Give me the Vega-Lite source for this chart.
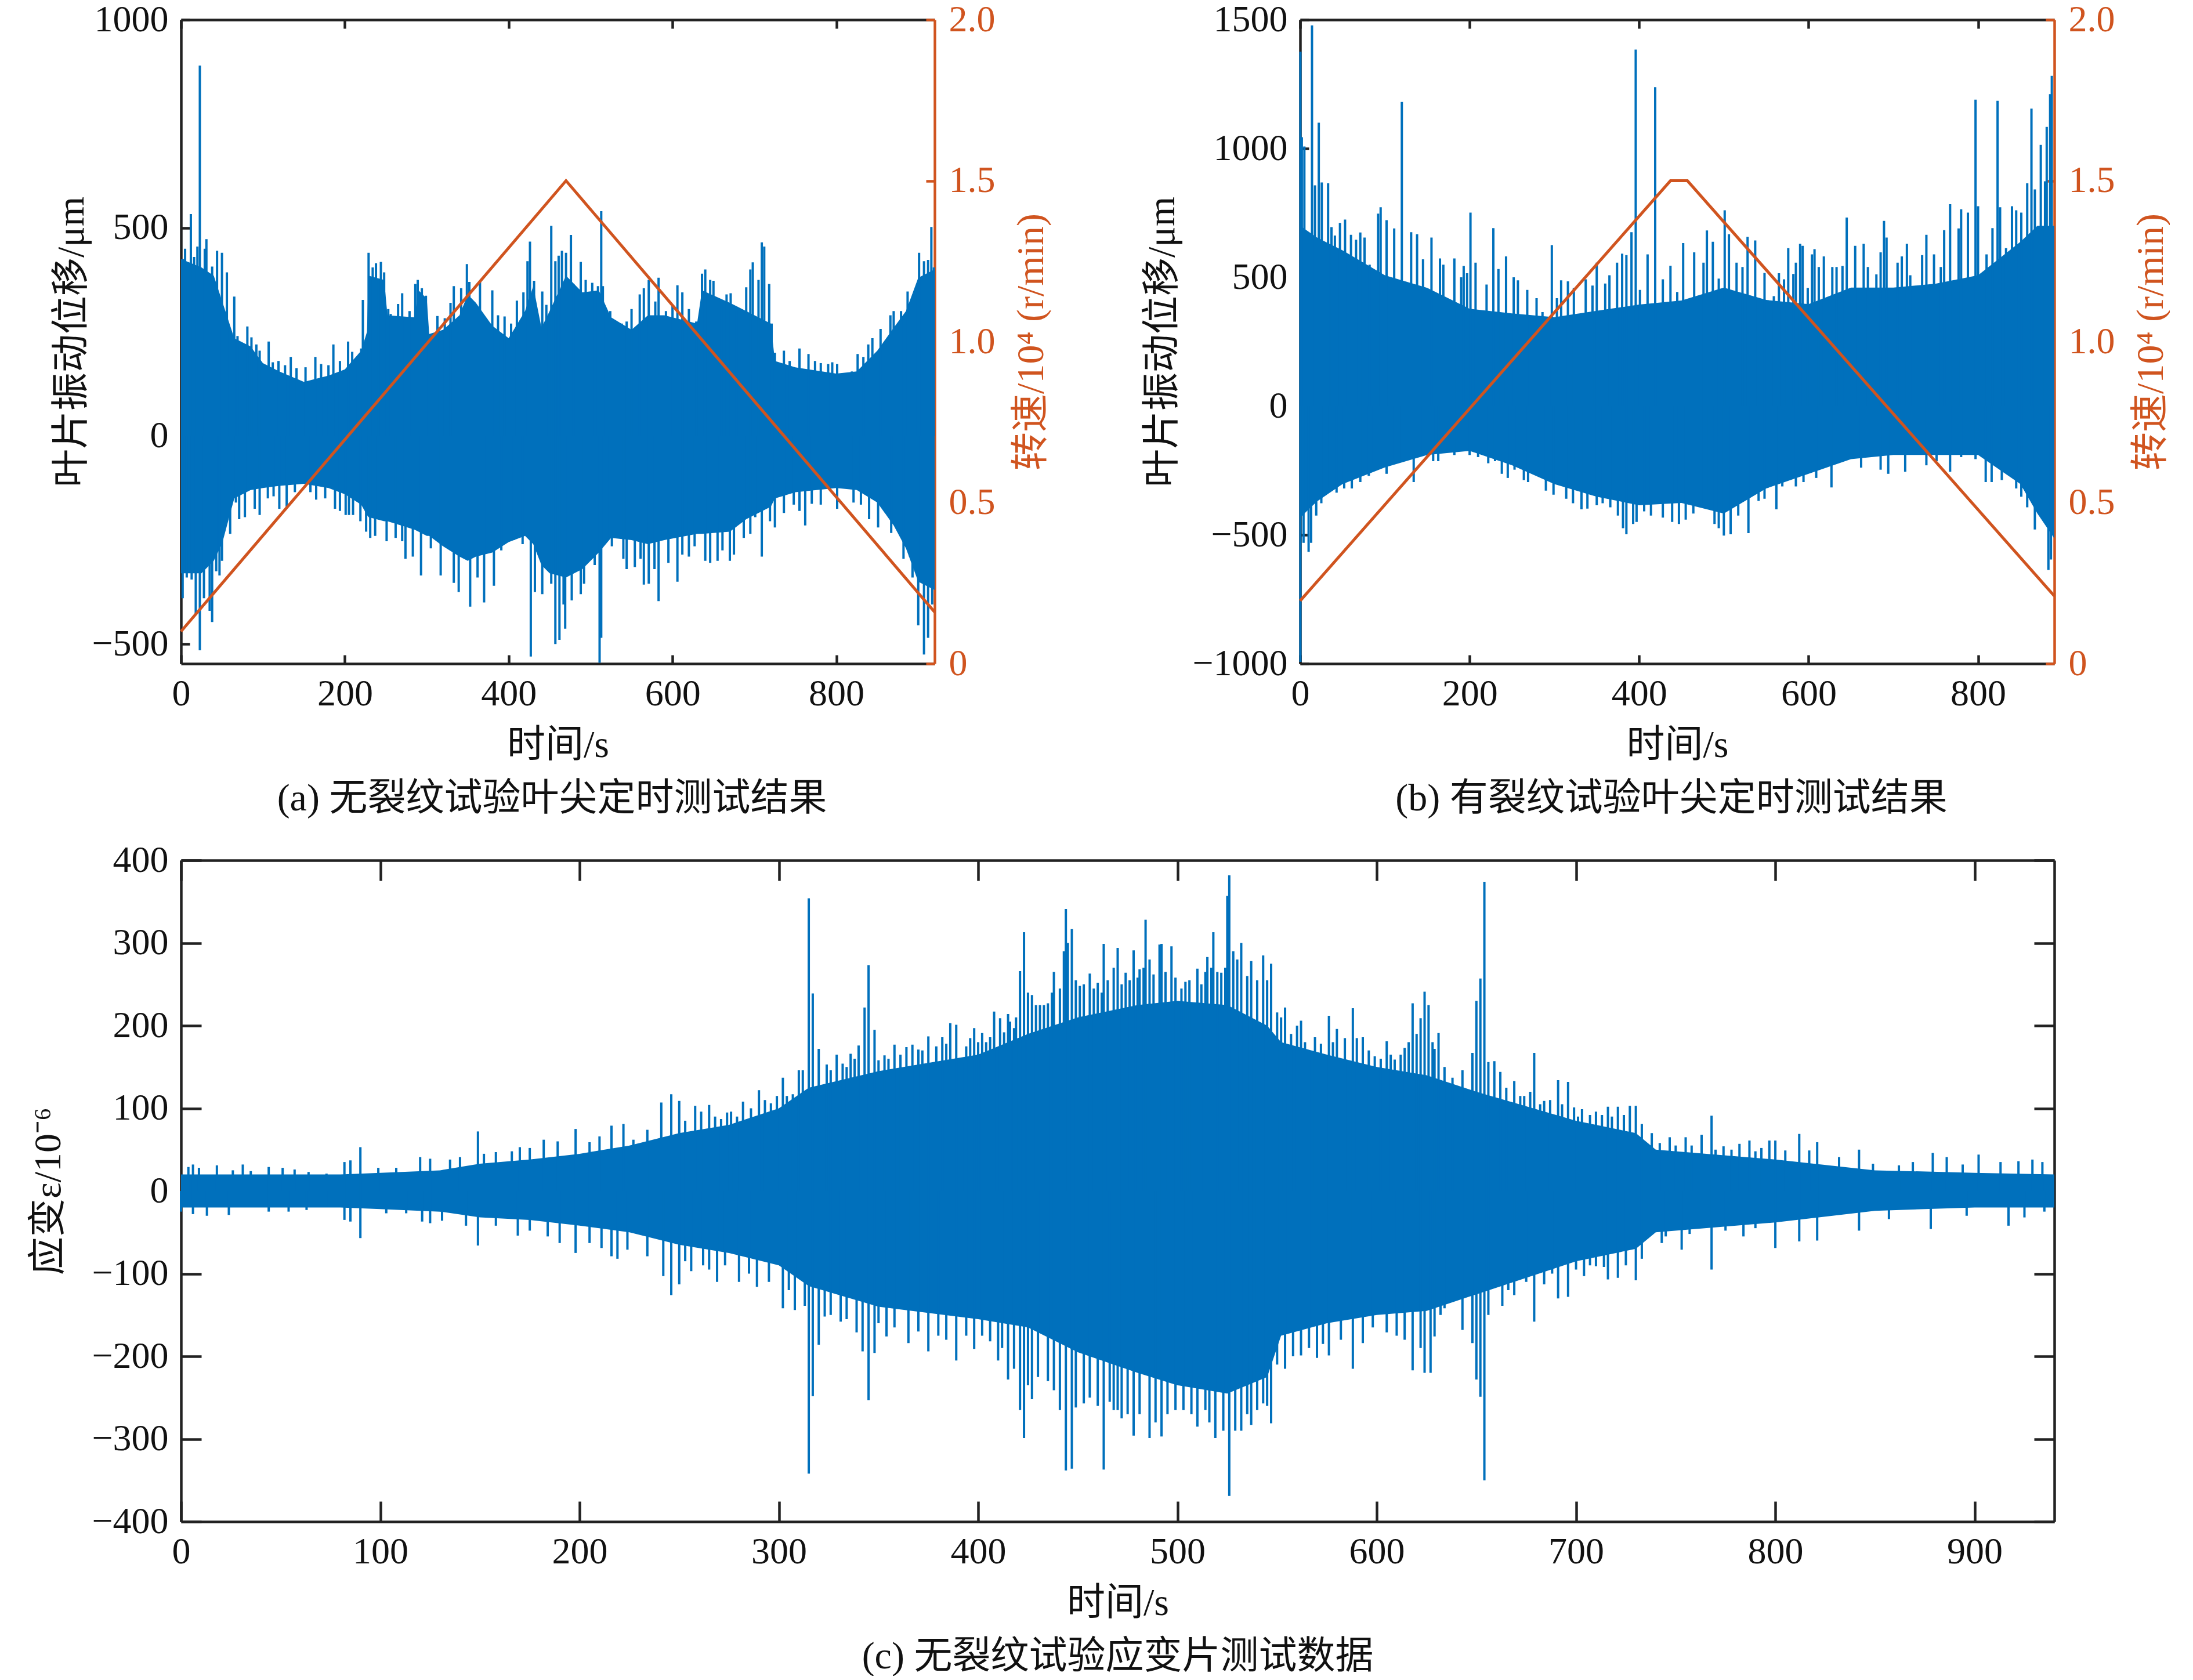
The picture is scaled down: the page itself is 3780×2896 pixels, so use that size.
{
"$schema":"https://vega.github.io/schema/vega-lite/v6.json",
"autosize":{"type":"pad"},
"padding":{"left":50,"top":2,"right":0,"bottom":0},
"background":"white",
"config":{"font":"Liberation Serif, Noto Sans CJK SC","view":{"stroke":null},"axis":{"grid":false,"labelFont":"Liberation Serif, Noto Sans CJK SC","titleFont":"Liberation Serif, Noto Sans CJK SC","labelFontSize":64,"titleFontSize":66,"titleFontWeight":"normal","labelColor":"#111","titleColor":"#111","domainColor":"#222","tickColor":"#222","domainWidth":4.5,"tickWidth":4.5},"title":{"font":"Liberation Serif, Noto Sans CJK SC","fontSize":66,"fontWeight":"normal","color":"#111"}},
"datasets":{
"a_env":[{"t":0,"lo":-330,"hi":425},{"t":25,"lo":-330,"hi":405},{"t":40,"lo":-300,"hi":385},{"t":50,"lo":-260,"hi":325},{"t":65,"lo":-150,"hi":235},{"t":85,"lo":-130,"hi":215},{"t":100,"lo":-125,"hi":175},{"t":120,"lo":-120,"hi":155},{"t":150,"lo":-115,"hi":130},{"t":180,"lo":-125,"hi":145},{"t":200,"lo":-140,"hi":160},{"t":220,"lo":-165,"hi":205},{"t":227,"lo":-190,"hi":250},{"t":229,"lo":-195,"hi":385},{"t":248,"lo":-205,"hi":375},{"t":252,"lo":-205,"hi":290},{"t":285,"lo":-225,"hi":285},{"t":290,"lo":-230,"hi":350},{"t":300,"lo":-240,"hi":330},{"t":303,"lo":-240,"hi":245},{"t":320,"lo":-265,"hi":255},{"t":340,"lo":-290,"hi":290},{"t":350,"lo":-300,"hi":340},{"t":360,"lo":-290,"hi":320},{"t":380,"lo":-280,"hi":265},{"t":400,"lo":-255,"hi":235},{"t":420,"lo":-240,"hi":300},{"t":430,"lo":-260,"hi":360},{"t":440,"lo":-310,"hi":260},{"t":450,"lo":-330,"hi":300},{"t":470,"lo":-340,"hi":385},{"t":490,"lo":-320,"hi":345},{"t":510,"lo":-280,"hi":350},{"t":525,"lo":-245,"hi":285},{"t":550,"lo":-250,"hi":255},{"t":570,"lo":-260,"hi":290},{"t":590,"lo":-250,"hi":290},{"t":630,"lo":-235,"hi":270},{"t":636,"lo":-235,"hi":350},{"t":670,"lo":-230,"hi":320},{"t":690,"lo":-200,"hi":300},{"t":720,"lo":-170,"hi":270},{"t":725,"lo":-150,"hi":180},{"t":750,"lo":-135,"hi":165},{"t":800,"lo":-125,"hi":150},{"t":825,"lo":-130,"hi":155},{"t":850,"lo":-160,"hi":205},{"t":870,"lo":-215,"hi":260},{"t":885,"lo":-270,"hi":300},{"t":900,"lo":-350,"hi":380},{"t":920,"lo":-370,"hi":400}],
"a_peak":[{"t":3,"v":425},{"t":5,"v":450},{"t":12,"v":533},{"t":16,"v":430},{"t":20,"v":455},{"t":23,"v":890},{"t":29,"v":450},{"t":31,"v":473},{"t":38,"v":407},{"t":44,"v":445},{"t":50,"v":440},{"t":56,"v":393},{"t":65,"v":335},{"t":69,"v":240},{"t":81,"v":263},{"t":86,"v":237},{"t":92,"v":220},{"t":96,"v":205},{"t":107,"v":227},{"t":112,"v":177},{"t":119,"v":180},{"t":127,"v":170},{"t":134,"v":190},{"t":141,"v":163},{"t":152,"v":165},{"t":164,"v":190},{"t":171,"v":173},{"t":180,"v":170},{"t":186,"v":220},{"t":194,"v":180},{"t":204,"v":227},{"t":209,"v":202},{"t":213,"v":185},{"t":220,"v":210},{"t":222,"v":327},{"t":229,"v":440},{"t":234,"v":405},{"t":238,"v":415},{"t":244,"v":418},{"t":248,"v":393},{"t":253,"v":305},{"t":256,"v":293},{"t":265,"v":317},{"t":270,"v":343},{"t":279,"v":300},{"t":286,"v":365},{"t":289,"v":375},{"t":294,"v":355},{"t":299,"v":337},{"t":313,"v":288},{"t":322,"v":283},{"t":329,"v":320},{"t":333,"v":360},{"t":342,"v":355},{"t":349,"v":413},{"t":352,"v":370},{"t":358,"v":320},{"t":365,"v":370},{"t":372,"v":283},{"t":380,"v":350},{"t":387,"v":290},{"t":395,"v":287},{"t":403,"v":270},{"t":410,"v":325},{"t":418,"v":345},{"t":423,"v":420},{"t":426,"v":467},{"t":431,"v":373},{"t":441,"v":347},{"t":446,"v":315},{"t":452,"v":505},{"t":457,"v":420},{"t":461,"v":433},{"t":465,"v":445},{"t":470,"v":440},{"t":476,"v":483},{"t":479,"v":365},{"t":488,"v":418},{"t":494,"v":375},{"t":502,"v":368},{"t":509,"v":360},{"t":513,"v":540},{"t":515,"v":360},{"t":524,"v":300},{"t":528,"v":255},{"t":538,"v":270},{"t":544,"v":275},{"t":550,"v":305},{"t":560,"v":340},{"t":565,"v":355},{"t":571,"v":375},{"t":579,"v":323},{"t":583,"v":380},{"t":592,"v":300},{"t":600,"v":315},{"t":606,"v":362},{"t":612,"v":345},{"t":620,"v":305},{"t":629,"v":275},{"t":636,"v":390},{"t":640,"v":400},{"t":646,"v":375},{"t":650,"v":373},{"t":660,"v":320},{"t":666,"v":340},{"t":671,"v":343},{"t":678,"v":300},{"t":690,"v":357},{"t":695,"v":400},{"t":698,"v":417},{"t":705,"v":375},{"t":709,"v":465},{"t":712,"v":455},{"t":718,"v":365},{"t":721,"v":270},{"t":725,"v":200},{"t":736,"v":205},{"t":743,"v":180},{"t":755,"v":210},{"t":766,"v":197},{"t":774,"v":180},{"t":781,"v":175},{"t":790,"v":173},{"t":795,"v":177},{"t":801,"v":173},{"t":819,"v":155},{"t":826,"v":197},{"t":833,"v":190},{"t":839,"v":220},{"t":844,"v":235},{"t":854,"v":257},{"t":859,"v":210},{"t":866,"v":290},{"t":870,"v":300},{"t":879,"v":300},{"t":887,"v":347},{"t":896,"v":350},{"t":901,"v":440},{"t":907,"v":420},{"t":912,"v":423},{"t":916,"v":502},{"t":919,"v":405},
{"t":2,"v":-390},{"t":7,"v":-340},{"t":13,"v":-345},{"t":18,"v":-430},{"t":23,"v":-515},{"t":28,"v":-390},{"t":35,"v":-420},{"t":38,"v":-447},{"t":43,"v":-325},{"t":47,"v":-335},{"t":50,"v":-300},{"t":60,"v":-235},{"t":67,"v":-160},{"t":71,"v":-200},{"t":78,"v":-195},{"t":90,"v":-175},{"t":96,"v":-190},{"t":106,"v":-150},{"t":113,"v":-145},{"t":120,"v":-175},{"t":129,"v":-170},{"t":139,"v":-135},{"t":158,"v":-135},{"t":165,"v":-153},{"t":176,"v":-150},{"t":188,"v":-175},{"t":194,"v":-180},{"t":201,"v":-190},{"t":205,"v":-190},{"t":210,"v":-190},{"t":219,"v":-205},{"t":226,"v":-230},{"t":231,"v":-245},{"t":237,"v":-240},{"t":251,"v":-253},{"t":262,"v":-245},{"t":270,"v":-253},{"t":274,"v":-295},{"t":283,"v":-290},{"t":293,"v":-335},{"t":305,"v":-270},{"t":317,"v":-335},{"t":333,"v":-353},{"t":339,"v":-375},{"t":353,"v":-410},{"t":362,"v":-340},{"t":370,"v":-400},{"t":382,"v":-360},{"t":391,"v":-275},{"t":406,"v":-250},{"t":417,"v":-260},{"t":427,"v":-530},{"t":432,"v":-375},{"t":441,"v":-380},{"t":452,"v":-355},{"t":457,"v":-500},{"t":462,"v":-490},{"t":467,"v":-405},{"t":469,"v":-463},{"t":477,"v":-395},{"t":488,"v":-380},{"t":492,"v":-355},{"t":505,"v":-310},{"t":511,"v":-545},{"t":513,"v":-485},{"t":520,"v":-250},{"t":526,"v":-265},{"t":532,"v":-245},{"t":540,"v":-295},{"t":544,"v":-320},{"t":554,"v":-315},{"t":561,"v":-295},{"t":565,"v":-357},{"t":571,"v":-355},{"t":578,"v":-320},{"t":583,"v":-397},{"t":595,"v":-305},{"t":606,"v":-350},{"t":612,"v":-285},{"t":620,"v":-290},{"t":627,"v":-265},{"t":640,"v":-300},{"t":646,"v":-305},{"t":655,"v":-300},{"t":661,"v":-275},{"t":670,"v":-300},{"t":675,"v":-285},{"t":687,"v":-245},{"t":695,"v":-235},{"t":701,"v":-195},{"t":709,"v":-290},{"t":719,"v":-205},{"t":725,"v":-220},{"t":736,"v":-185},{"t":748,"v":-165},{"t":755,"v":-180},{"t":762,"v":-215},{"t":770,"v":-163},{"t":781,"v":-165},{"t":801,"v":-175},{"t":821,"v":-160},{"t":830,"v":-165},{"t":840,"v":-200},{"t":851,"v":-220},{"t":867,"v":-233},{"t":882,"v":-295},{"t":890,"v":-290},{"t":893,"v":-340},{"t":900,"v":-455},{"t":907,"v":-525},{"t":912,"v":-485},{"t":917,"v":-405}],
"a_speed":[{"t":0,"rpm":0.1},{"t":470,"rpm":1.5},{"t":920,"rpm":0.16}],
"b_env":[{"t":0,"lo":-433,"hi":700},{"t":20,"lo":-370,"hi":654},{"t":50,"lo":-303,"hi":605},{"t":100,"lo":-238,"hi":508},{"t":150,"lo":-190,"hi":459},{"t":200,"lo":-174,"hi":378},{"t":250,"lo":-230,"hi":360},{"t":300,"lo":-303,"hi":345},{"t":350,"lo":-352,"hi":370},{"t":400,"lo":-385,"hi":394},{"t":450,"lo":-376,"hi":410},{"t":500,"lo":-417,"hi":460},{"t":550,"lo":-320,"hi":412},{"t":600,"lo":-263,"hi":396},{"t":650,"lo":-206,"hi":460},{"t":700,"lo":-190,"hi":460},{"t":750,"lo":-190,"hi":475},{"t":800,"lo":-190,"hi":508},{"t":850,"lo":-303,"hi":638},{"t":870,"lo":-417,"hi":700},{"t":890,"lo":-514,"hi":700}],
"b_peak":[{"t":0.3,"v":1376},{"t":2,"v":1044},{"t":5,"v":1008},{"t":14,"v":1478},{"t":17.5,"v":857},{"t":22,"v":1100},{"t":25.5,"v":868},{"t":33,"v":865},{"t":37,"v":695},{"t":41,"v":662},{"t":47,"v":711},{"t":53,"v":724},{"t":60,"v":665},{"t":66,"v":646},{"t":71,"v":674},{"t":76,"v":654},{"t":82,"v":549},{"t":92,"v":747},{"t":95,"v":772},{"t":102,"v":722},{"t":111,"v":690},{"t":120,"v":1181},{"t":131,"v":675},{"t":138,"v":667},{"t":145,"v":570},{"t":155,"v":654},{"t":165,"v":573},{"t":169,"v":549},{"t":182,"v":573},{"t":190,"v":500},{"t":193,"v":544},{"t":197,"v":516},{"t":201,"v":751},{"t":207,"v":557},{"t":220,"v":472},{"t":228,"v":691},{"t":234,"v":532},{"t":243,"v":581},{"t":252,"v":500},{"t":257,"v":488},{"t":268,"v":451},{"t":279,"v":419},{"t":286,"v":365},{"t":297,"v":625},{"t":303,"v":419},{"t":308,"v":488},{"t":316,"v":484},{"t":323,"v":459},{"t":337,"v":492},{"t":345,"v":468},{"t":350,"v":557},{"t":360,"v":476},{"t":365,"v":508},{"t":374,"v":557},{"t":380,"v":592},{"t":385,"v":586},{"t":391,"v":675},{"t":396,"v":1384},{"t":401,"v":451},{"t":410,"v":589},{"t":419,"v":1238},{"t":428,"v":492},{"t":437,"v":545},{"t":445,"v":443},{"t":452,"v":633},{"t":465,"v":597},{"t":476,"v":557},{"t":480,"v":682},{"t":487,"v":638},{"t":494,"v":495},{"t":501,"v":760},{"t":506,"v":667},{"t":515,"v":557},{"t":522,"v":540},{"t":528,"v":657},{"t":537,"v":643},{"t":548,"v":517},{"t":559,"v":427},{"t":565,"v":516},{"t":571,"v":492},{"t":576,"v":613},{"t":582,"v":513},{"t":585,"v":557},{"t":590,"v":630},{"t":593,"v":622},{"t":599,"v":459},{"t":604,"v":589},{"t":607,"v":609},{"t":612,"v":540},{"t":618,"v":581},{"t":628,"v":540},{"t":633,"v":540},{"t":640,"v":544},{"t":645,"v":732},{"t":655,"v":622},{"t":665,"v":630},{"t":670,"v":540},{"t":680,"v":511},{"t":685,"v":597},{"t":689,"v":719},{"t":692,"v":654},{"t":705,"v":557},{"t":710,"v":581},{"t":716,"v":630},{"t":720,"v":508},{"t":734,"v":586},{"t":739,"v":665},{"t":748,"v":589},{"t":756,"v":540},{"t":760,"v":683},{"t":767,"v":784},{"t":777,"v":690},{"t":780,"v":764},{"t":788,"v":751},{"t":797,"v":1190},{"t":800,"v":776},{"t":810,"v":589},{"t":817,"v":691},{"t":823,"v":1185},{"t":826,"v":772},{"t":833,"v":613},{"t":840,"v":776},{"t":845,"v":760},{"t":851,"v":751},{"t":858,"v":865},{"t":863,"v":1155},{"t":867,"v":841},{"t":874,"v":1014},{"t":879,"v":873},{"t":881,"v":1084},{"t":885,"v":1211},{"t":887,"v":1282},
{"t":0.3,"v":-993},{"t":4,"v":-531},{"t":10,"v":-566},{"t":13,"v":-531},{"t":19,"v":-425},{"t":25,"v":-377},{"t":32,"v":-320},{"t":43,"v":-336},{"t":52,"v":-320},{"t":61,"v":-320},{"t":71,"v":-295},{"t":81,"v":-271},{"t":84,"v":-222},{"t":102,"v":-263},{"t":111,"v":-206},{"t":117,"v":-206},{"t":134,"v":-295},{"t":145,"v":-190},{"t":157,"v":-214},{"t":163,"v":-214},{"t":170,"v":-182},{"t":182,"v":-190},{"t":200,"v":-190},{"t":210,"v":-198},{"t":222,"v":-222},{"t":230,"v":-214},{"t":238,"v":-263},{"t":245,"v":-279},{"t":253,"v":-247},{"t":264,"v":-287},{"t":269,"v":-295},{"t":280,"v":-263},{"t":290,"v":-328},{"t":299,"v":-344},{"t":314,"v":-360},{"t":322,"v":-377},{"t":332,"v":-401},{"t":339,"v":-398},{"t":350,"v":-385},{"t":357,"v":-377},{"t":366,"v":-393},{"t":375,"v":-425},{"t":381,"v":-474},{"t":385,"v":-498},{"t":393,"v":-458},{"t":397,"v":-450},{"t":406,"v":-409},{"t":414,"v":-425},{"t":428,"v":-433},{"t":439,"v":-450},{"t":447,"v":-458},{"t":455,"v":-441},{"t":464,"v":-417},{"t":476,"v":-377},{"t":482,"v":-393},{"t":489,"v":-458},{"t":494,"v":-474},{"t":500,"v":-503},{"t":508,"v":-498},{"t":517,"v":-425},{"t":529,"v":-493},{"t":541,"v":-368},{"t":548,"v":-360},{"t":562,"v":-401},{"t":569,"v":-312},{"t":585,"v":-312},{"t":594,"v":-295},{"t":609,"v":-279},{"t":627,"v":-316},{"t":639,"v":-214},{"t":662,"v":-239},{"t":685,"v":-247},{"t":694,"v":-263},{"t":714,"v":-255},{"t":739,"v":-230},{"t":751,"v":-214},{"t":767,"v":-255},{"t":780,"v":-198},{"t":797,"v":-206},{"t":809,"v":-295},{"t":816,"v":-295},{"t":828,"v":-287},{"t":845,"v":-320},{"t":851,"v":-352},{"t":858,"v":-393},{"t":867,"v":-479},{"t":874,"v":-425},{"t":883,"v":-636},{"t":886,"v":-596}],
"b_speed":[{"t":0,"rpm":0.195},{"t":437,"rpm":1.5},{"t":457,"rpm":1.5},{"t":890,"rpm":0.21}],
"c_env":[{"t":0,"lo":-20,"hi":20},{"t":50,"lo":-20,"hi":20},{"t":80,"lo":-20,"hi":20},{"t":100,"lo":-22,"hi":22},{"t":130,"lo":-25,"hi":25},{"t":150,"lo":-32,"hi":33},{"t":175,"lo":-35,"hi":38},{"t":200,"lo":-42,"hi":45},{"t":225,"lo":-50,"hi":55},{"t":250,"lo":-65,"hi":70},{"t":275,"lo":-75,"hi":80},{"t":300,"lo":-90,"hi":100},{"t":315,"lo":-115,"hi":125},{"t":350,"lo":-140,"hi":145},{"t":400,"lo":-155,"hi":165},{"t":425,"lo":-165,"hi":190},{"t":450,"lo":-195,"hi":210},{"t":480,"lo":-220,"hi":225},{"t":500,"lo":-235,"hi":230},{"t":525,"lo":-245,"hi":225},{"t":545,"lo":-225,"hi":200},{"t":552,"lo":-175,"hi":180},{"t":575,"lo":-160,"hi":165},{"t":600,"lo":-150,"hi":150},{"t":625,"lo":-145,"hi":140},{"t":650,"lo":-125,"hi":120},{"t":700,"lo":-85,"hi":85},{"t":730,"lo":-70,"hi":70},{"t":740,"lo":-50,"hi":50},{"t":800,"lo":-38,"hi":38},{"t":850,"lo":-24,"hi":25},{"t":900,"lo":-20,"hi":22},{"t":940,"lo":-20,"hi":20}],
"c_peak":[{"t":3.7,"v":29},{"t":6,"v":32},{"t":9,"v":28},{"t":18,"v":31},{"t":26,"v":25},{"t":31,"v":32},{"t":35,"v":24},{"t":44,"v":29},{"t":51,"v":28},{"t":57,"v":26},{"t":64,"v":23},{"t":73,"v":21},{"t":82,"v":35},{"t":85,"v":37},{"t":90,"v":53},{"t":99,"v":28},{"t":108,"v":28},{"t":120,"v":41},{"t":125,"v":39},{"t":135,"v":38},{"t":140,"v":41},{"t":149,"v":72},{"t":152,"v":45},{"t":158,"v":47},{"t":166,"v":48},{"t":170,"v":53},{"t":175,"v":52},{"t":182,"v":62},{"t":189,"v":60},{"t":198,"v":75},{"t":205,"v":59},{"t":210,"v":66},{"t":216,"v":79},{"t":222,"v":81},{"t":227,"v":62},{"t":234,"v":74},{"t":241,"v":107},{"t":246,"v":117},{"t":250,"v":109},{"t":253,"v":85},{"t":258,"v":103},{"t":261,"v":96},{"t":265,"v":104},{"t":268,"v":90},{"t":271,"v":87},{"t":274,"v":95},{"t":276,"v":96},{"t":279,"v":90},{"t":282,"v":108},{"t":286,"v":100},{"t":290,"v":122},{"t":293,"v":110},{"t":296,"v":106},{"t":299,"v":115},{"t":302,"v":137},{"t":304,"v":115},{"t":307,"v":117},{"t":310,"v":146},{"t":312,"v":146},{"t":315,"v":354},{"t":317,"v":239},{"t":320,"v":172},{"t":324,"v":153},{"t":326,"v":146},{"t":329,"v":165},{"t":332,"v":154},{"t":334,"v":150},{"t":336,"v":166},{"t":338,"v":160},{"t":340,"v":176},{"t":343,"v":222},{"t":345,"v":273},{"t":348,"v":195},{"t":350,"v":158},{"t":353,"v":164},{"t":355,"v":160},{"t":358,"v":177},{"t":361,"v":165},{"t":364,"v":174},{"t":367,"v":177},{"t":370,"v":171},{"t":372,"v":170},{"t":375,"v":187},{"t":379,"v":175},{"t":382,"v":186},{"t":384,"v":178},{"t":386,"v":203},{"t":389,"v":201},{"t":392,"v":154},{"t":394,"v":175},{"t":396,"v":185},{"t":398,"v":197},{"t":400,"v":180},{"t":402,"v":191},{"t":404,"v":180},{"t":406,"v":186},{"t":408,"v":217},{"t":411,"v":209},{"t":413,"v":192},{"t":415,"v":214},{"t":416,"v":205},{"t":418,"v":197},{"t":419,"v":210},{"t":421,"v":266},{"t":423,"v":313},{"t":425,"v":240},{"t":427,"v":237},{"t":429,"v":225},{"t":431,"v":225},{"t":433,"v":225},{"t":435,"v":227},{"t":437,"v":240},{"t":438,"v":265},{"t":441,"v":245},{"t":443,"v":290},{"t":444,"v":341},{"t":445,"v":300},{"t":447,"v":317},{"t":449,"v":255},{"t":451,"v":248},{"t":453,"v":250},{"t":456,"v":263},{"t":458,"v":245},{"t":460,"v":252},{"t":462,"v":240},{"t":463,"v":299},{"t":465,"v":255},{"t":468,"v":270},{"t":470,"v":294},{"t":472,"v":250},{"t":474,"v":264},{"t":476,"v":255},{"t":478,"v":291},{"t":480,"v":258},{"t":481,"v":268},{"t":483,"v":270},{"t":484,"v":328},{"t":486,"v":280},{"t":488,"v":262},{"t":491,"v":298},{"t":492,"v":299},{"t":494,"v":265},{"t":497,"v":296},{"t":499,"v":258},{"t":502,"v":245},{"t":504,"v":253},{"t":506,"v":255},{"t":510,"v":269},{"t":512,"v":250},{"t":514,"v":265},{"t":515,"v":283},{"t":517,"v":270},{"t":518,"v":313},{"t":520,"v":265},{"t":522,"v":264},{"t":524,"v":270},{"t":525,"v":357},{"t":526,"v":382},{"t":528,"v":290},{"t":530,"v":280},{"t":532,"v":300},{"t":535,"v":260},{"t":537,"v":278},{"t":540,"v":255},{"t":543,"v":285},{"t":545,"v":255},{"t":547,"v":275},{"t":550,"v":216},{"t":552,"v":210},{"t":554,"v":222},{"t":557,"v":190},{"t":560,"v":200},{"t":562,"v":206},{"t":564,"v":180},{"t":566,"v":170},{"t":569,"v":186},{"t":572,"v":178},{"t":576,"v":212},{"t":578,"v":180},{"t":580,"v":196},{"t":584,"v":185},{"t":588,"v":221},{"t":590,"v":185},{"t":593,"v":186},{"t":596,"v":170},{"t":599,"v":163},{"t":602,"v":160},{"t":605,"v":181},{"t":607,"v":165},{"t":609,"v":159},{"t":612,"v":165},{"t":614,"v":173},{"t":616,"v":180},{"t":618,"v":227},{"t":620,"v":190},{"t":622,"v":209},{"t":624,"v":241},{"t":626,"v":225},{"t":628,"v":180},{"t":629,"v":172},{"t":631,"v":191},{"t":634,"v":150},{"t":638,"v":137},{"t":643,"v":146},{"t":648,"v":167},{"t":650,"v":230},{"t":652,"v":257},{"t":654,"v":374},{"t":656,"v":156},{"t":659,"v":157},{"t":662,"v":144},{"t":665,"v":125},{"t":669,"v":133},{"t":672,"v":115},{"t":674,"v":115},{"t":677,"v":120},{"t":679,"v":167},{"t":682,"v":105},{"t":684,"v":109},{"t":687,"v":110},{"t":691,"v":134},{"t":693,"v":105},{"t":696,"v":132},{"t":699,"v":101},{"t":701,"v":90},{"t":703,"v":99},{"t":707,"v":92},{"t":710,"v":96},{"t":713,"v":92},{"t":716,"v":102},{"t":718,"v":90},{"t":721,"v":102},{"t":724,"v":92},{"t":727,"v":103},{"t":730,"v":103},{"t":733,"v":81},{"t":738,"v":70},{"t":742,"v":58},{"t":747,"v":65},{"t":750,"v":55},{"t":755,"v":65},{"t":758,"v":55},{"t":763,"v":68},{"t":768,"v":91},{"t":770,"v":50},{"t":774,"v":54},{"t":778,"v":50},{"t":782,"v":57},{"t":787,"v":61},{"t":790,"v":48},{"t":793,"v":52},{"t":797,"v":61},{"t":800,"v":61},{"t":805,"v":49},{"t":812,"v":69},{"t":817,"v":49},{"t":821,"v":59},{"t":832,"v":41},{"t":842,"v":50},{"t":849,"v":33},{"t":862,"v":31},{"t":869,"v":35},{"t":879,"v":46},{"t":886,"v":41},{"t":894,"v":32},{"t":902,"v":44},{"t":913,"v":35},{"t":922,"v":36},{"t":929,"v":38},{"t":934,"v":35},
{"t":0,"v":-25},{"t":6,"v":-28},{"t":13,"v":-30},{"t":24,"v":-29},{"t":44,"v":-25},{"t":54,"v":-25},{"t":63,"v":-23},{"t":74,"v":-19},{"t":82,"v":-35},{"t":85,"v":-37},{"t":90,"v":-57},{"t":103,"v":-27},{"t":113,"v":-27},{"t":121,"v":-37},{"t":125,"v":-39},{"t":131,"v":-36},{"t":143,"v":-42},{"t":149,"v":-66},{"t":158,"v":-42},{"t":169,"v":-54},{"t":175,"v":-48},{"t":184,"v":-55},{"t":190,"v":-63},{"t":198,"v":-75},{"t":205,"v":-63},{"t":211,"v":-69},{"t":216,"v":-79},{"t":219,"v":-82},{"t":224,"v":-71},{"t":234,"v":-79},{"t":242,"v":-103},{"t":246,"v":-126},{"t":250,"v":-113},{"t":253,"v":-85},{"t":256,"v":-97},{"t":262,"v":-90},{"t":265,"v":-95},{"t":269,"v":-110},{"t":273,"v":-90},{"t":280,"v":-110},{"t":285,"v":-100},{"t":289,"v":-116},{"t":295,"v":-110},{"t":302,"v":-142},{"t":305,"v":-120},{"t":308,"v":-144},{"t":313,"v":-139},{"t":315,"v":-342},{"t":317,"v":-248},{"t":320,"v":-186},{"t":323,"v":-152},{"t":326,"v":-150},{"t":331,"v":-158},{"t":334,"v":-155},{"t":339,"v":-171},{"t":342,"v":-194},{"t":345,"v":-253},{"t":348,"v":-196},{"t":350,"v":-160},{"t":354,"v":-176},{"t":358,"v":-165},{"t":365,"v":-184},{"t":370,"v":-170},{"t":375,"v":-194},{"t":380,"v":-175},{"t":384,"v":-180},{"t":389,"v":-205},{"t":394,"v":-175},{"t":398,"v":-191},{"t":402,"v":-175},{"t":406,"v":-182},{"t":410,"v":-205},{"t":412,"v":-190},{"t":415,"v":-228},{"t":418,"v":-215},{"t":421,"v":-265},{"t":423,"v":-299},{"t":425,"v":-235},{"t":427,"v":-252},{"t":430,"v":-225},{"t":435,"v":-230},{"t":438,"v":-241},{"t":441,"v":-265},{"t":444,"v":-338},{"t":447,"v":-336},{"t":449,"v":-262},{"t":453,"v":-257},{"t":456,"v":-250},{"t":460,"v":-260},{"t":463,"v":-337},{"t":466,"v":-255},{"t":468,"v":-265},{"t":470,"v":-265},{"t":472,"v":-275},{"t":475,"v":-270},{"t":478,"v":-296},{"t":481,"v":-270},{"t":486,"v":-299},{"t":489,"v":-280},{"t":492,"v":-297},{"t":495,"v":-270},{"t":499,"v":-265},{"t":503,"v":-265},{"t":507,"v":-270},{"t":510,"v":-285},{"t":514,"v":-265},{"t":516,"v":-280},{"t":519,"v":-299},{"t":523,"v":-290},{"t":526,"v":-369},{"t":529,"v":-290},{"t":532,"v":-290},{"t":535,"v":-270},{"t":537,"v":-283},{"t":540,"v":-265},{"t":543,"v":-257},{"t":545,"v":-260},{"t":547,"v":-281},{"t":550,"v":-210},{"t":554,"v":-215},{"t":558,"v":-200},{"t":562,"v":-199},{"t":566,"v":-190},{"t":570,"v":-202},{"t":573,"v":-185},{"t":576,"v":-199},{"t":582,"v":-180},{"t":588,"v":-215},{"t":593,"v":-184},{"t":598,"v":-165},{"t":605,"v":-171},{"t":610,"v":-175},{"t":614,"v":-180},{"t":618,"v":-217},{"t":622,"v":-190},{"t":624,"v":-220},{"t":627,"v":-220},{"t":629,"v":-176},{"t":632,"v":-150},{"t":634,"v":-142},{"t":643,"v":-168},{"t":648,"v":-184},{"t":650,"v":-228},{"t":652,"v":-249},{"t":654,"v":-350},{"t":656,"v":-150},{"t":663,"v":-139},{"t":666,"v":-120},{"t":669,"v":-126},{"t":675,"v":-110},{"t":679,"v":-158},{"t":684,"v":-113},{"t":688,"v":-100},{"t":691,"v":-130},{"t":696,"v":-128},{"t":700,"v":-95},{"t":704,"v":-103},{"t":707,"v":-90},{"t":710,"v":-91},{"t":714,"v":-92},{"t":716,"v":-107},{"t":721,"v":-105},{"t":725,"v":-90},{"t":730,"v":-108},{"t":733,"v":-82},{"t":743,"v":-63},{"t":745,"v":-55},{"t":753,"v":-71},{"t":757,"v":-52},{"t":768,"v":-95},{"t":775,"v":-48},{"t":784,"v":-55},{"t":790,"v":-45},{"t":800,"v":-69},{"t":812,"v":-61},{"t":821,"v":-60},{"t":842,"v":-48},{"t":857,"v":-34},{"t":878,"v":-46},{"t":896,"v":-30},{"t":917,"v":-42},{"t":925,"v":-32},{"t":935,"v":-25}]
},
"vconcat":[
{"hconcat":[
{"width":1299,"height":1110,
"title":{"text":"(a) 无裂纹试验叶尖定时测试结果","orient":"bottom","offset":28,"dx":-10},
"layer":[
{"data":{"name":"a_env"},"mark":{"type":"area","color":"#0070BC"},
"encoding":{"x":{"field":"t","type":"quantitative","scale":{"domain":[0,920],"nice":false},"axis":{"orient":"bottom","values":[0,200,400,600,800],"tickSize":-15,"labelPadding":35,"title":"时间/s","titlePadding":24,"format":"d","labelFlush":false}},
"y":{"field":"lo","type":"quantitative","scale":{"domain":[-547,1000],"nice":false},"axis":{"orient":"left","values":[-500,0,500,1000],"tickSize":-15,"labelPadding":37,"title":"叶片振动位移/μm","titlePadding":0,"format":"d"}},"y2":{"field":"hi"}}},
{"data":{"name":"a_peak"},"mark":{"type":"rule","color":"#0070BC","strokeWidth":4},
"encoding":{"x":{"field":"t","type":"quantitative","scale":{"domain":[0,920],"nice":false},"axis":null},"y":{"field":"v","type":"quantitative","scale":{"domain":[-547,1000],"nice":false},"axis":null},"y2":{"datum":0}}},
{"data":{"name":"a_speed"},"mark":{"type":"line","color":"#D0541F","strokeWidth":5},
"encoding":{"x":{"field":"t","type":"quantitative","scale":{"domain":[0,920],"nice":false},"axis":{"orient":"top","values":[0,200,400,600,800],"tickSize":-15,"labels":false,"title":null}},
"y":{"field":"rpm","type":"quantitative","scale":{"domain":[0,2],"nice":false},"axis":{"orient":"right","values":[0,0.5,1,1.5,2],"tickSize":-15,"labelPadding":39,"title":"转速/10⁴ (r/min)","titleAngle":270,"titlePadding":96,"domainColor":"#D0541F","tickColor":"#D0541F","labelColor":"#D0541F","titleColor":"#D0541F","labelExpr":"datum.value==0?'0':format(datum.value,'.1f')"}}}}
],
"resolve":{"scale":{"y":"independent"},"axis":{"x":"independent","y":"independent"}}},
{"width":1300,"height":1110,
"title":{"text":"(b) 有裂纹试验叶尖定时测试结果","orient":"bottom","offset":28,"dx":-10},
"layer":[
{"data":{"name":"b_env"},"mark":{"type":"area","color":"#0070BC"},
"encoding":{"x":{"field":"t","type":"quantitative","scale":{"domain":[0,890],"nice":false},"axis":{"orient":"bottom","values":[0,200,400,600,800],"tickSize":-15,"labelPadding":35,"title":"时间/s","titlePadding":24,"format":"d","labelFlush":false}},
"y":{"field":"lo","type":"quantitative","scale":{"domain":[-1000,1500],"nice":false},"axis":{"orient":"left","values":[-1000,-500,0,500,1000,1500],"tickSize":-15,"labelPadding":37,"title":"叶片振动位移/μm","titlePadding":17,"format":"d"}},"y2":{"field":"hi"}}},
{"data":{"name":"b_peak"},"mark":{"type":"rule","color":"#0070BC","strokeWidth":4},
"encoding":{"x":{"field":"t","type":"quantitative","scale":{"domain":[0,890],"nice":false},"axis":null},"y":{"field":"v","type":"quantitative","scale":{"domain":[-1000,1500],"nice":false},"axis":null},"y2":{"datum":0}}},
{"data":{"name":"b_speed"},"mark":{"type":"line","color":"#D0541F","strokeWidth":5},
"encoding":{"x":{"field":"t","type":"quantitative","scale":{"domain":[0,890],"nice":false},"axis":{"orient":"top","values":[0,200,400,600,800],"tickSize":-15,"labels":false,"title":null}},
"y":{"field":"rpm","type":"quantitative","scale":{"domain":[0,2],"nice":false},"axis":{"orient":"right","values":[0,0.5,1,1.5,2],"tickSize":-15,"labelPadding":39,"title":"转速/10⁴ (r/min)","titleAngle":270,"titlePadding":96,"domainColor":"#D0541F","tickColor":"#D0541F","labelColor":"#D0541F","titleColor":"#D0541F","labelExpr":"datum.value==0?'0':format(datum.value,'.1f')"}}}}
],
"resolve":{"scale":{"y":"independent"},"axis":{"x":"independent","y":"independent"}}}
],"spacing":630,"bounds":"flush"},
{"width":3229,"height":1140,
"title":{"text":"(c) 无裂纹试验应变片测试数据","orient":"bottom","offset":28},
"layer":[
{"data":{"name":"c_env"},"mark":{"type":"area","color":"#0070BC"},
"encoding":{"x":{"field":"t","type":"quantitative","scale":{"domain":[0,940],"nice":false},"axis":{"orient":"bottom","values":[0,100,200,300,400,500,600,700,800,900],"tickSize":-35,"labelPadding":55,"title":"时间/s","titlePadding":24,"format":"d","labelFlush":false}},
"y":{"field":"lo","type":"quantitative","scale":{"domain":[-400,400],"nice":false},"axis":{"orient":"left","values":[-400,-300,-200,-100,0,100,200,300,400],"tickSize":-35,"labelPadding":57,"title":"应变ε/10⁻⁶","titlePadding":40,"format":"d"}},"y2":{"field":"hi"}}},
{"data":{"name":"c_peak"},"mark":{"type":"rule","color":"#0070BC","strokeWidth":4},
"encoding":{"x":{"field":"t","type":"quantitative","scale":{"domain":[0,940],"nice":false},"axis":{"orient":"top","values":[0,100,200,300,400,500,600,700,800,900],"tickSize":-35,"labels":false,"title":null}},"y":{"field":"v","type":"quantitative","scale":{"domain":[-400,400],"nice":false},"axis":{"orient":"right","values":[-400,-300,-200,-100,0,100,200,300,400],"tickSize":-35,"labels":false,"title":null}},"y2":{"datum":0}}}
],
"resolve":{"axis":{"x":"independent","y":"independent"}}}
],"spacing":41
}
